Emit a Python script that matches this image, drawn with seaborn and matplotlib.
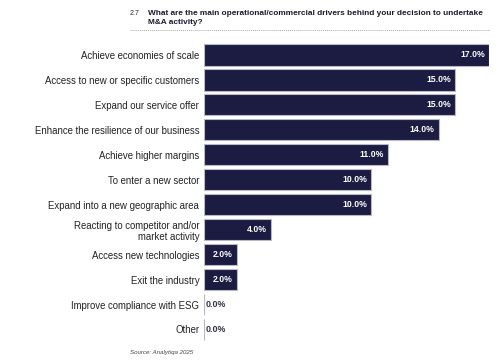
import numpy as np
import pandas as pd
import matplotlib
matplotlib.use('Agg')
import matplotlib.pyplot as plt
import seaborn as sns

categories = [
    'Achieve economies of scale',
    'Access to new or specific customers',
    'Expand our service offer',
    'Enhance the resilience of our business',
    'Achieve higher margins',
    'To enter a new sector',
    'Expand into a new geographic area',
    'Reacting to competitor and/or\nmarket activity',
    'Access new technologies',
    'Exit the industry',
    'Improve compliance with ESG',
    'Other',
]
values = [17.0, 15.0, 15.0, 14.0, 11.0, 10.0, 10.0, 4.0, 2.0, 2.0, 0.0, 0.0]

title_num = '2.7'
title_text = 'What are the main operational/commercial drivers behind your decision to undertake\nM&A activity?'
source_text = 'Source: Analytiqa 2025'

NAVY = '#1c1b42'
FONT = ['Liberation Sans', 'DejaVu Sans']

sns.set_style('white')
plt.rcParams['font.family'] = FONT

df = pd.DataFrame({'driver': categories, 'share': values})

fig = plt.figure(figsize=(5, 3.63), dpi=100)
ax = fig.add_axes([0.407, 0.058, 0.571, 0.825])

sns.barplot(data=df, x='share', y='driver', color=NAVY, saturation=1,
            width=0.85, edgecolor='#b8b8c4', linewidth=0.8, ax=ax)

ax.set_xlim(0, 17)
ax.set_ylim(11.5, -0.5)
ax.set_xlabel('')
ax.set_ylabel('')
ax.set_xticks([])
ax.tick_params(axis='y', length=0, pad=3, labelsize=6.9, labelcolor='#222222')
for lab in ax.get_yticklabels():
    lab.set_linespacing(1.15)
for s in ax.spines.values():
    s.set_visible(False)

for p, v in zip(ax.patches, values):
    yc = p.get_y() + p.get_height() / 2
    if v > 0:
        ax.text(v - 0.25, yc, f'{v:.1f}%', ha='right', va='center',
                color='white', fontsize=6.2, fontweight='bold')
    else:
        ax.text(0.15, yc, f'{v:.1f}%', ha='left', va='center',
                color='#333344', fontsize=6.4, fontweight='semibold')

fig.text(0.26, 0.962, title_num, fontsize=5, color='#222222', va='center')
fig.text(0.296, 0.972, title_text, fontsize=5.95, fontweight='bold',
         color='#1a1a2e', va='top', linespacing=1.3)
fig.add_artist(plt.Line2D([0.26, 0.98], [0.917, 0.917], transform=fig.transFigure,
                          color='#aaaaaa', lw=0.7, ls=(0, (1, 1))))
fig.text(0.26, 0.03, source_text, fontsize=4.4, style='italic', color='#444444', va='center')

fig.savefig('out.png', dpi=100)
